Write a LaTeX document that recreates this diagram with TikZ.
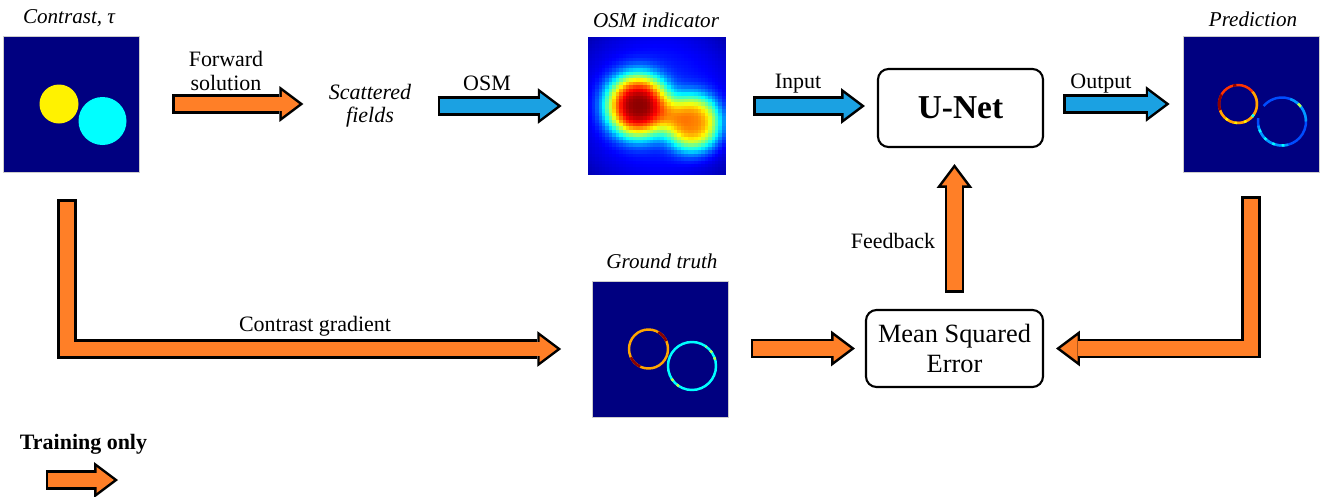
\documentclass[tikz,border=0pt]{standalone}
\usepackage{fontspec}
\setmainfont{Liberation Serif}
\usetikzlibrary{arrows.meta}
\definecolor{trainorange}{RGB}{255,127,39}
\definecolor{simblue}{RGB}{27,161,226}
\definecolor{jetnavy}{rgb}{0,0,0.5}
\definecolor{jetdark}{rgb}{0.55,0,0}
\definecolor{jetred}{rgb}{1,0.2,0}
\definecolor{jetorange}{rgb}{1,0.65,0}
\definecolor{jetyellow}{rgb}{1,0.95,0}
\definecolor{jetcyan}{rgb}{0,1,1}
\definecolor{jetlblue}{rgb}{0,0.6,1}
\definecolor{jetblue}{rgb}{0,0.3,1}
\definecolor{jetlime}{rgb}{0.7,1,0.3}
\tikzset{
  fat/.style={draw=black, line width=11pt, -{Triangle[length=13.6pt,width=20.4pt,line width=0pt]},
    postaction={draw=#1, line width=8.2pt, shorten <=1.4pt, shorten >=2.4pt, -{Triangle[length=9.8pt,width=14.7pt,line width=0pt]}}},
  fat/.default=trainorange,
  lbl/.style={font=\fontsize{12.5}{14.2}\selectfont, align=center, inner sep=0pt},
  ttl/.style={lbl, font=\fontsize{12}{14}\selectfont\itshape},
  box/.style={draw, line width=1.2pt, rounded corners=6pt, align=center, inner sep=0pt},
  img/.style={draw=black!20, line width=0.4pt, fill=jetnavy, minimum size=27.2mm, inner sep=0pt},
  ring/.style={line width=1.4pt}
}
\begin{document}
\begin{tikzpicture}[x=0.2mm, y=-0.2mm]
\useasboundingbox (0,0) rectangle (1336,497);

\node[img] (contrast) at (71,104) {};
\node[img, minimum size=27.4mm] (osm) at (657,106) {};
\node[img] (pred) at (1251,104) {};
\node[img] (gt) at (660.5,349) {};
\node[box, minimum width=33mm, minimum height=15.6mm, font=\fontsize{19}{22}\selectfont\bfseries] (unet) at (960.5,108) {U-Net};
\node[box, minimum width=35.4mm, minimum height=15.4mm, font=\fontsize{15}{17}\selectfont] (mse) at (954.5,348.5) {Mean Squared\\Error};

\node[ttl] (tcontrast) at (69,18.5) {Contrast, τ};
\node[lbl] (tforward) at (226,71) {Forward\\solution};
\node[lbl, font=\fontsize{12.5}{13}\selectfont\itshape] (scat) at (370,106) {Scattered\\fields};
\node[lbl] (tosm) at (487,83.5) {OSM};
\node[ttl] (tosmind) at (656,20) {OSM indicator};
\node[lbl] (tinput) at (798,84) {Input};
\node[lbl] (toutput) at (1101,84) {Output};
\node[ttl] (tpred) at (1253,19.5) {Prediction};
\node[lbl] (tfeed) at (893,241) {Feedback};
\node[ttl] (tgt) at (662,261) {Ground truth};
\node[lbl] (tgrad) at (315,326) {Contrast gradient};
\node[lbl, font=\fontsize{12.5}{14}\selectfont\bfseries] (legend) at (83.5,444.5) {Training only};

\begin{scope}[shift={(contrast.center)}, yscale=-1]
  \fill[jetyellow] (-12,0) circle (19.5);
  \fill[jetcyan] (31.5,-17) circle (24);
\end{scope}

\foreach \i in {0,...,39}{
  \foreach \j in {0,...,39}{
    \pgfmathsetmacro\px{588.5+3.425*(\i+0.5)}
    \pgfmathsetmacro\py{37.5+3.425*(\j+0.5)}
    \pgfmathsetmacro\qa{(((\px-638)/10)^2+((\py-106)/10)^2)/10}
    \pgfmathsetmacro\qb{(((\px-693)/10)^2+((\py-123)/10)^2)/8}
    \pgfmathsetmacro\vv{min(1,0.17-0.12*(((\px-657)/10)^2+((\py-106)/10)^2)/92.5+0.82*exp(-min(\qa^1.5,15))+0.6*exp(-min(\qb^1.5,15)))}
    \pgfmathsetmacro\jr{min(max(1.5-abs(4*\vv-3),0),1)}
    \pgfmathsetmacro\jg{min(max(1.5-abs(4*\vv-2),0),1)}
    \pgfmathsetmacro\jb{min(max(1.5-abs(4*\vv-1),0),1)}
    \definecolor{jetc}{rgb}{\jr,\jg,\jb}
    \fill[jetc] (\px-1.9,\py-1.9) rectangle (\px+1.9,\py+1.9);
  }
}

\begin{scope}[shift={(pred.center)}, yscale=-1]
  \draw[ring, jetred] (-13,0) circle (19);
  \foreach \cl/\sa/\ea in {jetdark/150/200, jetorange/200/330, jetorange/330/400, jetdark/95/105}
    \draw[ring, \cl] (-13,0) ++(\sa:19) arc[start angle=\sa, end angle=\ea, radius=19];
  \draw[ring, jetyellow, dash pattern=on 1.5pt off 4pt] (-13,0) ++(230:19) arc[start angle=230, end angle=330, radius=19];
  \draw[ring, jetcyan] (-13,0) ++(318:19) arc[start angle=318, end angle=326, radius=19];
  \draw[ring, jetblue] (31,-17.5) ++(172:24) arc[start angle=172, end angle=500, radius=24];
  \foreach \cl/\sa/\ea in {jetlblue/0/70, jetlblue/190/285}
    \draw[ring, \cl] (31,-17.5) ++(\sa:24) arc[start angle=\sa, end angle=\ea, radius=24];
  \draw[ring, jetcyan, dash pattern=on 1.5pt off 4pt] (31,-17.5) ++(200:24) arc[start angle=200, end angle=290, radius=24];
  \draw[ring, jetlime] (31,-17.5) ++(38:24) arc[start angle=38, end angle=48, radius=24];
\end{scope}

\begin{scope}[shift={(gt.center)}, yscale=-1]
  \draw[ring, jetorange] (-12,0) circle (19.5);
  \foreach \cl/\sa/\ea in {jetdark/24/60, jetdark/205/245}
    \draw[ring, \cl] (-12,0) ++(\sa:19.5) arc[start angle=\sa, end angle=\ea, radius=19.5];
  \draw[ring, jetcyan] (31.5,-17) circle (24);
  \foreach \sa/\ea in {15/55, 212/245}
    \draw[ring, jetlime, dash pattern=on 1.5pt off 3pt] (31.5,-17) ++(\sa:24) arc[start angle=\sa, end angle=\ea, radius=24];
\end{scope}

\draw[fat] ([xshift=6.6mm]contrast.east) -- ++(131,0);
\draw[fat=simblue] ([xshift=-30.1mm]osm.west) -- ([xshift=-5.3mm]osm.west);
\draw[fat=simblue] ([xshift=5.5mm]osm.east) -- ([xshift=-2.4mm]osm.east -| unet.west);
\draw[fat=simblue] ([xshift=3.8mm]unet.east |- pred.west) -- ([xshift=-2.6mm]pred.west);
\draw[fat] ([yshift=3.2mm]mse.north) -- ([yshift=-3.2mm]mse.north |- unet.south);
\draw[fat] ([xshift=4.4mm]gt.east |- mse.west) -- ([xshift=-2mm]mse.west);
\draw[fat] ([yshift=-4.8mm]pred.south) |- ([xshift=2.4mm]mse.east);
\draw[fat] ([xshift=-0.8mm,yshift=-5.4mm]contrast.south) |- ([xshift=-6.2mm]gt.west);
\draw[fat] ([shift={(-37.5,35.5)}]legend.center) -- ++(72,0);

\end{tikzpicture}
\end{document}
